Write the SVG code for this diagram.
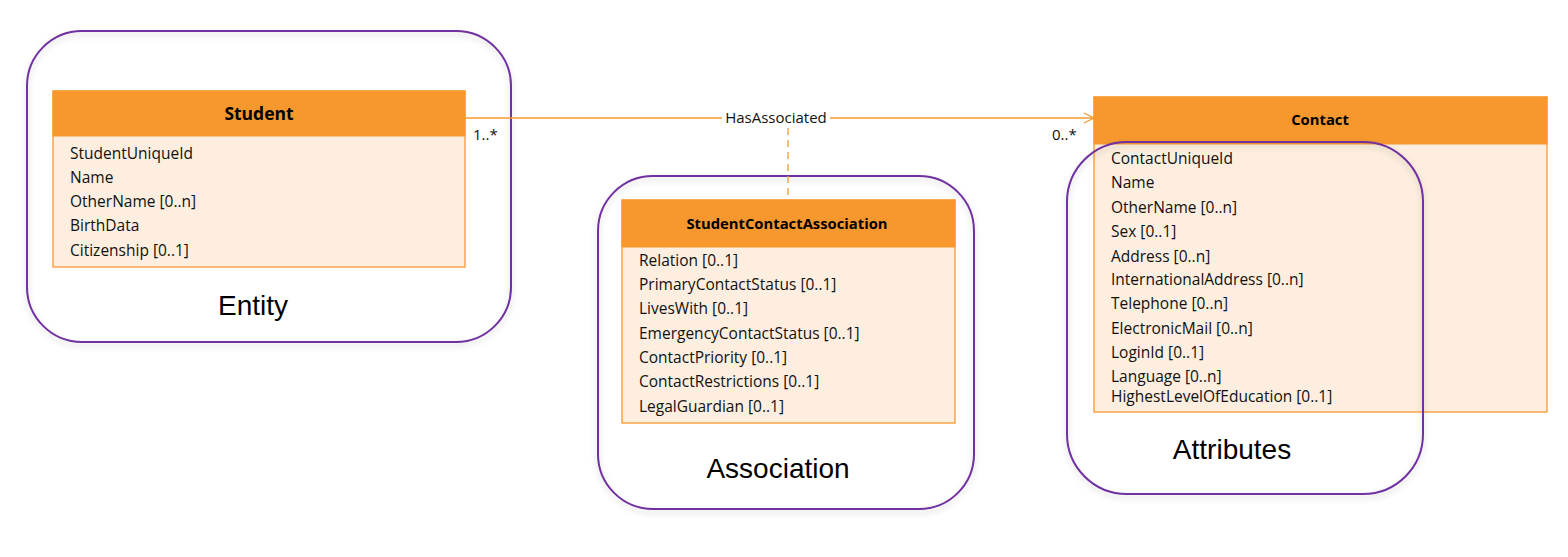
<svg xmlns="http://www.w3.org/2000/svg" width="1568" height="557" viewBox="0 0 1568 557">
<defs>
<filter id="sh" x="-10%" y="-10%" width="120%" height="125%">
<feDropShadow dx="0" dy="3" stdDeviation="3" flood-color="#000" flood-opacity="0.18"/>
</filter>
<marker id="open" viewBox="0 0 12 12" refX="11" refY="6" markerWidth="12" markerHeight="12" markerUnits="userSpaceOnUse" orient="auto">
<path d="M1,1 L11,6 L1,11" fill="none" stroke="#F79A2E" stroke-width="1.2"/>
</marker>
<style>
.grp{fill:none;stroke:#7030A0;stroke-width:2}
.hdr{fill:#F7982F;stroke:#F7982F;stroke-width:1}
.body{fill:#FDEEDF;stroke:#F7982F;stroke-width:1.3}
.t{font-family:"Open Sans","Noto Sans",sans-serif;font-size:15.5px;fill:#111}
.tb{font-family:"Open Sans","Noto Sans",sans-serif;font-weight:bold;fill:#000;text-anchor:middle}
.big{font-family:"Liberation Sans",Arial,sans-serif;font-size:28px;fill:#000;text-anchor:middle}
.lbl{font-family:"Open Sans","Noto Sans",sans-serif;font-size:15px;fill:#111}
.conn{fill:none;stroke:#F79A2E;stroke-width:1.3}
</style>
</defs>
<rect width="1568" height="557" fill="#fff"/>

<g id="entity">
<rect class="grp" x="27" y="31" width="484" height="311" rx="55" ry="55" fill="#fff" filter="url(#sh)"/>
<rect class="body" x="53" y="91" width="412" height="176"/>
<rect class="hdr" x="53" y="91" width="412" height="45"/>
<text class="tb" x="259" y="120" font-size="17.5">Student</text>
<text class="t" x="70" y="159">StudentUniqueId</text>
<text class="t" x="70" y="183">Name</text>
<text class="t" x="70" y="207">OtherName [0..n]</text>
<text class="t" x="70" y="231">BirthData</text>
<text class="t" x="70" y="256">Citizenship [0..1]</text>
<text class="big" x="253" y="315">Entity</text>
</g>

<g id="association">
<rect class="grp" x="598" y="176" width="376" height="333" rx="55" ry="55" fill="#fff" filter="url(#sh)"/>
<rect class="body" x="622" y="200" width="333" height="223"/>
<rect class="hdr" x="622" y="200" width="333" height="47"/>
<text class="tb" x="787" y="229" font-size="14.8">StudentContactAssociation</text>
<text class="t" x="639" y="266">Relation [0..1]</text>
<text class="t" x="639" y="290">PrimaryContactStatus [0..1]</text>
<text class="t" x="639" y="314">LivesWith [0..1]</text>
<text class="t" x="639" y="339">EmergencyContactStatus [0..1]</text>
<text class="t" x="639" y="363">ContactPriority [0..1]</text>
<text class="t" x="639" y="387">ContactRestrictions [0..1]</text>
<text class="t" x="639" y="412">LegalGuardian [0..1]</text>
<text class="big" x="778" y="478">Association</text>
</g>

<g id="contact">
<rect class="body" x="1094" y="97" width="453" height="315"/>
<rect class="hdr" x="1094" y="97" width="453" height="47"/>
<text class="tb" x="1320" y="125" font-size="14.8">Contact</text>
<text class="t" x="1111" y="164">ContactUniqueId</text>
<text class="t" x="1111" y="188">Name</text>
<text class="t" x="1111" y="213">OtherName [0..n]</text>
<text class="t" x="1111" y="237">Sex [0..1]</text>
<text class="t" x="1111" y="262">Address [0..n]</text>
<text class="t" x="1111" y="285">InternationalAddress [0..n]</text>
<text class="t" x="1111" y="309">Telephone [0..n]</text>
<text class="t" x="1111" y="334">ElectronicMail [0..n]</text>
<text class="t" x="1111" y="358">LoginId [0..1]</text>
<text class="t" x="1111" y="382">Language [0..n]</text>
<text class="t" x="1111" y="402">HighestLevelOfEducation [0..1]</text>
</g>

<g id="attributes">
<rect class="grp" x="1067" y="142" width="356" height="352" rx="60" ry="60" filter="url(#sh)"/>
<text class="big" x="1232" y="459">Attributes</text>
</g>

<g id="connectors">
<line class="conn" x1="465" y1="118" x2="1094" y2="118" marker-end="url(#open)"/>
<rect x="722" y="109" width="108" height="18" fill="#fff"/>
<text class="lbl" x="776" y="123" text-anchor="middle">HasAssociated</text>
<line class="conn" x1="788" y1="128" x2="788" y2="200" stroke-dasharray="7,5"/>
<text class="lbl" x="473" y="140">1..*</text>
<text class="lbl" x="1052" y="140">0..*</text>
</g>
</svg>
